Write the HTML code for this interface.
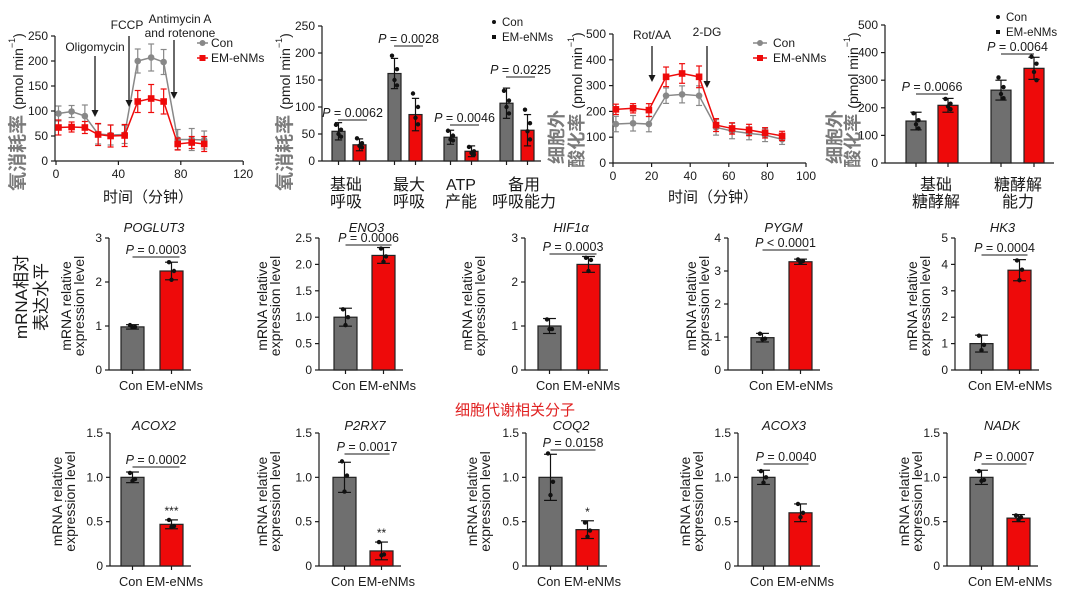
<!DOCTYPE html>
<html><head><meta charset="utf-8">
<style>
html,body{margin:0;padding:0;background:#fff;}
svg{display:block;font-family:"Liberation Sans","Noto Sans CJK SC",sans-serif;}
</style></head>
<body>
<svg id="fig" width="1075" height="596" viewBox="0 0 1075 596"></svg>
<script>
// ---------- Panel A: OCR time course ----------
const ocrTimes=[1.6,10,18.5,27,35,44,52.4,61,69,78,87,95];
const ocrCon=[95,99,90,54,52,53,200,207,198,43,43,42];
const ocrConErr=[15,12,22,20,20,18,24,27,25,20,22,18];
const ocrEm=[67,68,67,53,50,51,119,125,119,34,37,34];
const ocrEmErr=[15,10,12,22,22,22,22,28,25,12,12,15];
const ocrXTicks=[0,40,80,120];
const ocrYTicks=[0,50,100,150,200,250];
// ---------- Panel B: OCR bars ----------
const bCats=[["基础","呼吸"],["最大","呼吸"],["ATP","产能"],["备用","呼吸能力"]];
const bCon=[55,162,44,107];
const bEm=[30,86,18,57];
const bConErr=[16,28,13,28];
const bEmErr=[11,30,10,29];
const bConDots=[[67,58,50,45],[195,170,150,140],[56,47,40,38],[130,112,100,88]];
const bEmDots=[[42,33,28,25],[125,100,80,68],[26,18,15,12],[95,70,55,40]];
const bP=["0.0062","0.0028","0.0046","0.0225"];
const bYTicks=[0,50,100,150,200,250];
// ---------- Panel C: ECAR time course ----------
const ecarTimes=[1.5,10.4,18.6,27.5,35.8,44.6,53.4,61.7,70.5,78.8,87.6];
const ecarCon=[151,154,151,261,266,261,138,124,115,108,92];
const ecarConErr=[30,30,30,30,33,38,30,30,25,25,20];
const ecarEm=[208,212,205,334,347,334,147,134,128,117,105];
const ecarEmErr=[20,18,25,38,38,42,25,22,22,20,18];
const ecarXTicks=[0,20,40,60,80,100];
const ecarYTicks=[0,100,200,300,400,500];
// ---------- Panel D: ECAR bars ----------
const dCats=[["基础","糖酵解"],["糖酵解","能力"]];
const dCon=[152,264];
const dEm=[209,343];
const dConErr=[32,36];
const dEmErr=[25,40];
const dConDots=[[180,155,140,125],[310,275,250,235]];
const dEmDots=[[232,215,205,195],[385,360,330,300]];
const dP=["0.0066","0.0064"];
const dYTicks=[0,100,200,300,400,500];
// ---------- mRNA panels ----------
const genes=["POGLUT3","ENO3","HIF1α","PYGM","HK3","ACOX2","P2RX7","COQ2","ACOX3","NADK"];
const geneCon=[0.98,1.0,1.0,0.98,1.0,1.0,1.0,1.0,1.0,1.0];
const geneEm=[2.25,2.17,2.4,3.28,3.78,0.47,0.17,0.41,0.6,0.54];
const geneConErr=[0.05,0.17,0.17,0.13,0.32,0.06,0.17,0.26,0.08,0.08];
const geneEmErr=[0.2,0.15,0.18,0.08,0.4,0.05,0.1,0.1,0.1,0.04];
const geneConDots=[[1.02,0.98,0.97],[1.15,1.0,0.85],[1.15,0.93,0.93],[1.1,0.95,0.93],[1.3,0.95,0.75],[1.05,0.98,0.96],[1.18,1.02,0.84],[1.27,0.95,0.8],[1.07,1.0,0.94],[1.07,0.97,0.96]];
const geneEmDots=[[2.45,2.25,2.05],[2.3,2.15,2.05],[2.55,2.5,2.25],[3.35,3.3,3.25],[4.15,3.8,3.4],[0.52,0.45,0.44],[0.27,0.13,0.12],[0.49,0.4,0.33],[0.7,0.6,0.55],[0.57,0.55,0.52]];
const geneP=["P = 0.0003","P = 0.0006","P = 0.0003","P < 0.0001","P = 0.0004","P = 0.0002","P = 0.0017","P = 0.0158","P = 0.0040","P = 0.0007"];
const geneStars=["","","","","","***","**","*","",""];
const geneYMax=[3,2.5,3,4,5,1.5,1.5,1.5,1.5,1.5];
const geneTickLabels=[["0","1","2","3"],["0","0.5","1.0","1.5","2.0","2.5"],["0","1","2","3"],["0","1","2","3","4"],["0","1","2","3","4","5"],["0","0.5","1.0","1.5"],["0","0.5","1.0","1.5"],["0","0.5","1.0","1.5"],["0","0.5","1.0","1.5"],["0","0.5","1.0","1.5"]];
const geneTickValues=[[0,1,2,3],[0,0.5,1,1.5,2,2.5],[0,1,2,3],[0,1,2,3,4],[0,1,2,3,4,5],[0,0.5,1,1.5],[0,0.5,1,1.5],[0,0.5,1,1.5],[0,0.5,1,1.5],[0,0.5,1,1.5]];

// layout (pixels)
const gAxisX=[109,319,525,728,955,110,319,526,738,947];
const gConL=[121,334,538,751,970,121,333,539,752,970];
const gEmL=[160,372,577,789,1008,160,370,576,789,1007];
const gYL1=[66,262,467,691,912,57,262,472,685,904];
const gPY=[250,238,247,243,248,460,447,443,457,457];

const NS="http://www.w3.org/2000/svg";
const svg=document.getElementById("fig");
const GRAY="#6f6f6f", RED="#ee0a0a", LGRAY="#888", INK="#1a1a1a";
function mk(tag,attrs,parent){const e=document.createElementNS(NS,tag);for(const k in attrs)e.setAttribute(k,attrs[k]);(parent||svg).appendChild(e);return e;}
function txt(x,y,s,size,parent,anchor,extra){const e=mk("text",Object.assign({x:x,y:y,"font-size":size,"text-anchor":anchor||"middle",fill:INK},extra||{}),parent);e.textContent=s;return e;}
function line(x1,y1,x2,y2,parent,stroke,w){return mk("line",{x1:x1,y1:y1,x2:x2,y2:y2,stroke:stroke||INK,"stroke-width":w||1.2},parent);}
function errbar(x,yTop,yBot,cap,parent,color){line(x,yTop,x,yBot,parent,color,1.2);line(x-cap,yTop,x+cap,yTop,parent,color,1.2);line(x-cap,yBot,x+cap,yBot,parent,color,1.2);}
function arrow(x,y1,y2,parent){line(x,y1,x,y2-5,parent,INK,1.3);mk("path",{d:`M${x-3.5},${y2-7} L${x},${y2} L${x+3.5},${y2-7} Z`,fill:INK},parent);}
function rotLabel(x,y,parent,parts){const t=mk("text",{transform:`translate(${x},${y}) rotate(-90)`,"text-anchor":"middle","dominant-baseline":"central",fill:INK},parent);parts.forEach(p=>{const s=mk("tspan",Object.assign({},p.a||{}),t);s.textContent=p.s;});return t;}

// ===== Panel A =====
(function(){
const g=mk("g",{});


const x=t=>56+t*1.56, y=v=>161-v*0.5;
line(55,36,55,161,g);line(55,161,243,161,g);
ocrYTicks.forEach(v=>{line(51,y(v),55,y(v),g);txt(48,y(v)+4,String(v),12,g,"end");});
ocrXTicks.forEach(v=>{line(x(v),161,x(v),165,g);txt(x(v),178,String(v),12,g);});
const xl=txt(148,202,"时间（分钟）",15,g);

const yl=rotLabel(18,112,g,[{s:"氧消耗率 ",a:{"font-size":19,"font-weight":"bold",fill:"#7a7a7a"}},{s:"(pmol min",a:{"font-size":14}},{s:"−1",a:{"font-size":9,dy:-6}},{s:")",a:{"font-size":14,dy:6}}]);

[[ocrCon,ocrConErr,LGRAY,"con"],[ocrEm,ocrEmErr,RED,"em"]].forEach(([vals,errs,col,nm])=>{
  const pts=vals.map((v,i)=>`${x(ocrTimes[i])},${y(v)}`).join(" ");
  const pl=mk("polyline",{points:pts,fill:"none",stroke:col,"stroke-width":1.5},g);
  
  vals.forEach((v,i)=>{errbar(x(ocrTimes[i]),y(v+errs[i]),y(v-errs[i]),3,g,col);
    let m;
    if(nm==="con"){m=mk("circle",{cx:x(ocrTimes[i]),cy:y(v),r:3.3,fill:col},g);}
    else{m=mk("rect",{x:x(ocrTimes[i])-3.3,y:y(v)-3.3,width:6.6,height:6.6,fill:col},g);}
    
  });
});
txt(95,51,"Oligomycin",12,g);arrow(95,56,117,g);
txt(127,29,"FCCP",12,g);arrow(129,36,107,g);
txt(180,23,"Antimycin A",12,g);txt(180,37,"and rotenone",12,g);arrow(174,40,99,g);
line(197,43,208,43,g,LGRAY,1.5);mk("circle",{cx:202.5,cy:43,r:3,fill:LGRAY},g);txt(211,47,"Con",12,g,"start");
line(197,58,208,58,g,RED,1.5);mk("rect",{x:199.5,y:55,width:6,height:6,fill:RED},g);txt(211,62,"EM-eNMs",12,g,"start");
})();

// ===== generic bar group =====
function barPanel(name,cfg){
const g=mk("g",{});


const y=v=>cfg.y0-v*cfg.sy;
line(cfg.ax,cfg.yTopPx,cfg.ax,cfg.y0,g);line(cfg.ax,cfg.y0,cfg.axEnd,cfg.y0,g);
cfg.ticks.forEach((v,i)=>{line(cfg.ax-4,y(v),cfg.ax,y(v),g);txt(cfg.ax-7,y(v)+4,cfg.tickLabels[i],cfg.tickSize||12,g,"end");});
return {g,y};
}
function drawBar(g,x,w,v,err,dots,y,y0,col,nm){
  const b=mk("rect",{x:x,y:y(v),width:w,height:y0-y(v),fill:col,stroke:"#222","stroke-width":1.2},g);
  
  errbar(x+w/2,y(v+err),y(Math.max(0,v-err)),w*0.28,g,"#111");
  dots.forEach((d,j)=>{const c=mk("circle",{cx:x+w/2+(j%2?2.5:-2.5)*(j%3===2?0:1),cy:y(d),r:2.2,fill:"#111"},g);});
  line(x+w/2,y0,x+w/2,y0+4,g);
}
function pLabel(g,x1,x2,yTxt,s,size){
  const cx=(x1+x2)/2;
  const t=mk("text",{x:cx,y:yTxt+4,"font-size":size,"text-anchor":"middle",fill:INK},g);
  const a=mk("tspan",{"font-style":"italic"},t);a.textContent="P";
  const b=mk("tspan",{},t);b.textContent=s.replace(/^P/,"");
  
  line(x1,yTxt+7,x2,yTxt+7,g,INK,1);
}

// ===== Panel B =====
(function(){
const cfg={ax:322,y0:161,sy:0.54,yTopPx:26,axEnd:541,ticks:bYTicks,tickLabels:bYTicks.map(String)};
const {g,y}=barPanel("ocr-bar-chart",cfg);
const conX=[332,388,444,500], emX=[353,409,465,521], pY=[113,39,118,70];
bCon.forEach((v,i)=>{
  drawBar(g,conX[i],13,v,bConErr[i],bConDots[i],y,161,GRAY,"bar-con-"+i);
  drawBar(g,emX[i],13,bEm[i],bEmErr[i],bEmDots[i],y,161,RED,"bar-em-"+i);
  pLabel(g,conX[i]+6,emX[i]+14,pY[i],"P = "+bP[i],12.5);
  const cx=[346,409,461,524][i];
  txt(cx,190,bCats[i][0],16,g);txt(cx,207,bCats[i][1],16,g);
});
const yl=rotLabel(285,112,g,[{s:"氧消耗率 ",a:{"font-size":19,"font-weight":"bold",fill:"#7a7a7a"}},{s:"(pmol min",a:{"font-size":14}},{s:"−1",a:{"font-size":9,dy:-6}},{s:")",a:{"font-size":14,dy:6}}]);

mk("circle",{cx:494,cy:22,r:2,fill:"#111"},g);txt(502,26,"Con",11.5,g,"start");
mk("rect",{x:492,y:35,width:4,height:4,fill:"#111"},g);txt(502,41,"EM-eNMs",11.5,g,"start");
})();

// ===== Panel C =====
(function(){
const g=mk("g",{});


const x=t=>613+t*1.93, y=v=>163-v*0.258;
line(613,34,613,163,g);line(613,163,806,163,g);
ecarYTicks.forEach(v=>{line(609,y(v),613,y(v),g);txt(606,y(v)+4,String(v),12,g,"end");});
ecarXTicks.forEach(v=>{line(x(v),163,x(v),167,g);txt(x(v),180,String(v),12,g);});
const xl=txt(713,202,"时间（分钟）",15,g);

const t1=rotLabel(557,137,g,[{s:"细胞外",a:{"font-size":18,"font-weight":"bold",fill:"#7a7a7a"}}]);

const t2=rotLabel(577,100,g,[{s:"酸化率 ",a:{"font-size":18,"font-weight":"bold",fill:"#7a7a7a"}},{s:"(pmol min",a:{"font-size":14}},{s:"−1",a:{"font-size":9,dy:-6}},{s:")",a:{"font-size":14,dy:6}}]);

[[ecarCon,ecarConErr,LGRAY,"con"],[ecarEm,ecarEmErr,RED,"em"]].forEach(([vals,errs,col,nm])=>{
  const pl=mk("polyline",{points:vals.map((v,i)=>`${x(ecarTimes[i])},${y(v)}`).join(" "),fill:"none",stroke:col,"stroke-width":1.5},g);
  
  vals.forEach((v,i)=>{errbar(x(ecarTimes[i]),y(v+errs[i]),y(v-errs[i]),3,g,col);
    let m;
    if(nm==="con"){m=mk("circle",{cx:x(ecarTimes[i]),cy:y(v),r:3.3,fill:col},g);}
    else{m=mk("rect",{x:x(ecarTimes[i])-3.3,y:y(v)-3.3,width:6.6,height:6.6,fill:col},g);}
    
  });
});
txt(652,39,"Rot/AA",12,g);arrow(652,46,82,g);
txt(707,36,"2-DG",12,g);arrow(707,46,88,g);
line(753,43,767,43,g,LGRAY,1.5);mk("circle",{cx:760,cy:43,r:3,fill:LGRAY},g);txt(773,47,"Con",12,g,"start");
line(753,58,767,58,g,RED,1.5);mk("rect",{x:757,y:55,width:6,height:6,fill:RED},g);txt(773,62,"EM-eNMs",12,g,"start");
})();

// ===== Panel D =====
(function(){
const cfg={ax:885,y0:163,sy:0.276,yTopPx:25,axEnd:1054,ticks:dYTicks,tickLabels:dYTicks.map(String)};
const {g,y}=barPanel("ecar-bar-chart",cfg);
const conX=[906,991], emX=[938,1024], pY=[87,47], cxs=[936,1018];
dCon.forEach((v,i)=>{
  drawBar(g,conX[i],20,v,dConErr[i],dConDots[i],y,163,GRAY,"bar-con-"+i);
  drawBar(g,emX[i],20,dEm[i],dEmErr[i],dEmDots[i],y,163,RED,"bar-em-"+i);
  pLabel(g,conX[i]+10,emX[i]+10,pY[i],"P = "+dP[i],12.5);
  txt(cxs[i],190,dCats[i][0],16,g);txt(cxs[i],207,dCats[i][1],16,g);
});
const t1=rotLabel(835,137,g,[{s:"细胞外",a:{"font-size":18,"font-weight":"bold",fill:"#7a7a7a"}}]);

const t2=rotLabel(853,100,g,[{s:"酸化率 ",a:{"font-size":18,"font-weight":"bold",fill:"#7a7a7a"}},{s:"(pmol min",a:{"font-size":14}},{s:"−1",a:{"font-size":9,dy:-6}},{s:")",a:{"font-size":14,dy:6}}]);

mk("circle",{cx:998,cy:17,r:2,fill:"#111"},g);txt(1006,21,"Con",11.5,g,"start");
mk("rect",{x:996,y:30,width:4,height:4,fill:"#111"},g);txt(1006,36,"EM-eNMs",11.5,g,"start");
})();

// ===== mRNA panels =====
genes.forEach((gn,i)=>{
  const row=i<5?0:1;
  const y0=row?566:370, yTop=row?433:238;
  const sy=(y0-yTop)/geneYMax[i];
  const bw=23;
  const cfg={ax:gAxisX[i],y0:y0,sy:sy,yTopPx:yTop,axEnd:gEmL[i]+bw+8,ticks:geneTickValues[i],tickLabels:geneTickLabels[i],tickSize:12};
  const {g,y}=barPanel("mrna-chart-"+gn.toLowerCase(),cfg);
  drawBar(g,gConL[i],bw,geneCon[i],geneConErr[i],geneConDots[i],y,y0,GRAY,"bar-con");
  drawBar(g,gEmL[i],bw,geneEm[i],geneEmErr[i],geneEmDots[i],y,y0,RED,"bar-em");
  const cx=(gConL[i]+gEmL[i]+bw)/2;
  const tt=txt(cx+2,row?430:232,gn,13,g,"middle",{"font-style":"italic"});
  
  pLabel(g,gConL[i]+bw/2,gEmL[i]+bw/2+8,gPY[i],geneP[i],12.5);
  if(geneStars[i]){const s=txt(gEmL[i]+bw/2,y(geneEm[i]+geneEmErr[i])-5,geneStars[i],12,g);}
  const cl=txt(gConL[i]-2,y0+20,"Con EM-eNMs",13,g,"start",{textLength:84,lengthAdjust:"spacingAndGlyphs"});
  
  const l1=rotLabel(gYL1[i],(y0+yTop)/2+2,g,[{s:"mRNA relative",a:{"font-size":14}}]);
  
  const l2=rotLabel(gYL1[i]+13,(y0+yTop)/2+2,g,[{s:"expression level",a:{"font-size":14}}]);
  
});
const m1=rotLabel(21,297,null,[{s:"mRNA相对",a:{"font-size":17}}]);

const m2=rotLabel(41,297,null,[{s:"表达水平",a:{"font-size":17}}]);

const red=txt(515,415,"细胞代谢相关分子",15,null,"middle",{fill:"#e02020"});

</script>
</body></html>
